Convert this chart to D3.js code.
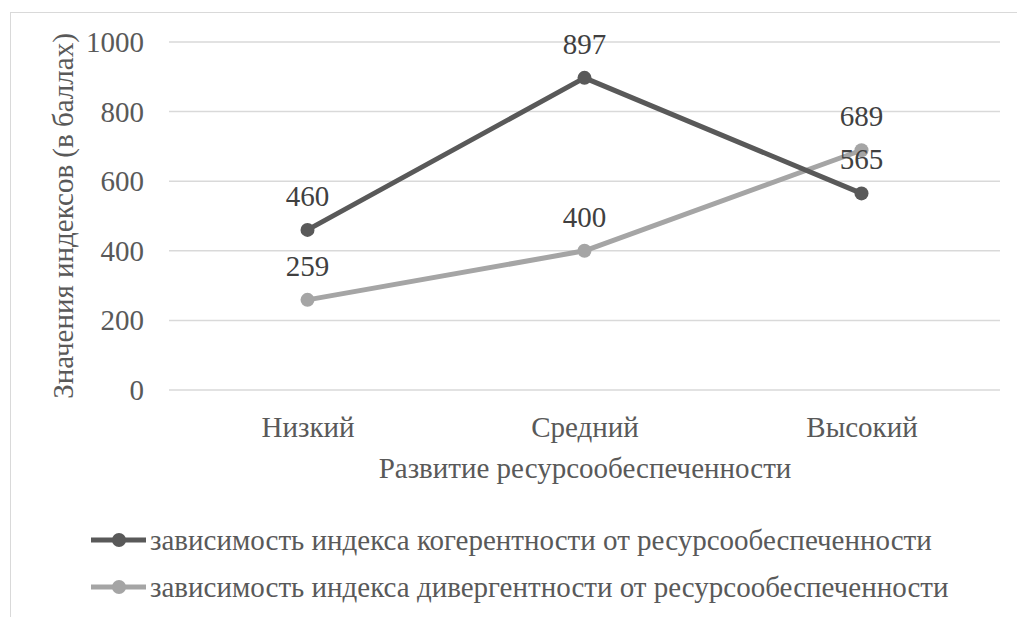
<!DOCTYPE html>
<html><head><meta charset="utf-8">
<script src="https://cdn.jsdelivr.net/npm/d3@7"></script>
<style>body{margin:0;background:#fff}svg{display:block}</style>
</head><body>
<svg id="c" width="1017" height="617"></svg>
<script>
const categories = ["Низкий", "Средний", "Высокий"];
const coherence = [460, 897, 565];
const divergence = [259, 400, 689];
const yTicks = [0, 200, 400, 600, 800, 1000];
const seriesNames = ["зависимость индекса когерентности от ресурсообеспеченности",
                     "зависимость индекса дивергентности от ресурсообеспеченности"];
const colors = ["#595959", "#a5a5a5"];

const FF = "Liberation Serif";
const FS = "29px";
const txt = "#595959";
const svg = d3.select("#c").style("font-family", FF);
function styleText(sel) { return sel.attr("font-family", FF).style("font-family", FF).style("font-size", FS); }

svg.append("rect").attr("x", 10.5).attr("y", 12.5).attr("width", 1020).attr("height", 620)
  .attr("fill", "none").attr("stroke", "#d9d9d9").attr("stroke-width", 1);

const x = d3.scalePoint().domain(categories).range([169, 1000]).padding(0.5);
const y = d3.scaleLinear().domain([0, 1000]).range([390, 42]);

svg.append("g").selectAll("line").data(yTicks).join("line")
  .attr("x1", 169).attr("x2", 1000)
  .attr("y1", d => y(d)).attr("y2", d => y(d))
  .attr("stroke", "#d9d9d9").attr("stroke-width", 1.5);

const yAxis = d3.axisLeft(y).tickValues(yTicks).tickFormat(d3.format("d")).tickSize(0).tickPadding(0);
const ya = svg.append("g").attr("transform", "translate(144,0)").call(yAxis).attr("font-family", FF);
ya.select(".domain").remove();
styleText(ya.selectAll("text")).attr("fill", txt).attr("dy", "0.33em");

const xAxis = d3.axisBottom(x).tickSize(0).tickPadding(0);
const xa = svg.append("g").attr("transform", "translate(0,437)").call(xAxis).attr("font-family", FF);
xa.select(".domain").remove();
styleText(xa.selectAll("text")).attr("fill", txt).attr("dy", "0");

styleText(svg.append("text").attr("x", 585).attr("y", 478).attr("text-anchor", "middle"))
  .attr("fill", txt).text("Развитие ресурсообеспеченности");
styleText(svg.append("text").attr("transform", "translate(73,216) rotate(-90)").attr("text-anchor", "middle"))
  .attr("fill", txt).text("Значения индексов (в баллах)");

const line = d3.line().x((d, i) => x(categories[i])).y(d => y(d));
[[divergence, colors[1]], [coherence, colors[0]]].forEach(([s, c]) => {
  svg.append("path").datum(s).attr("d", line).attr("fill", "none").attr("stroke", c).attr("stroke-width", 5).attr("stroke-linejoin", "round");
  svg.append("g").selectAll("circle").data(s).join("circle").attr("cx", (d, i) => x(categories[i])).attr("cy", d => y(d)).attr("r", 7).attr("fill", c);
});
[coherence, divergence].forEach(s => {
  styleText(svg.append("g").selectAll("text").data(s).join("text")
    .attr("x", (d, i) => x(categories[i])).attr("y", d => y(d) - 24)
    .attr("text-anchor", "middle")).attr("fill", "#404040").text(d => d);
});

const legY = [540, 587];
seriesNames.forEach((n, i) => {
  svg.append("line").attr("x1", 91).attr("x2", 146).attr("y1", legY[i]).attr("y2", legY[i]).attr("stroke", colors[i]).attr("stroke-width", 5);
  svg.append("circle").attr("cx", 119).attr("cy", legY[i]).attr("r", 7).attr("fill", colors[i]);
  styleText(svg.append("text").attr("x", 150).attr("y", legY[i] + 10)).attr("fill", txt).text(n);
});
</script>
</body></html>
